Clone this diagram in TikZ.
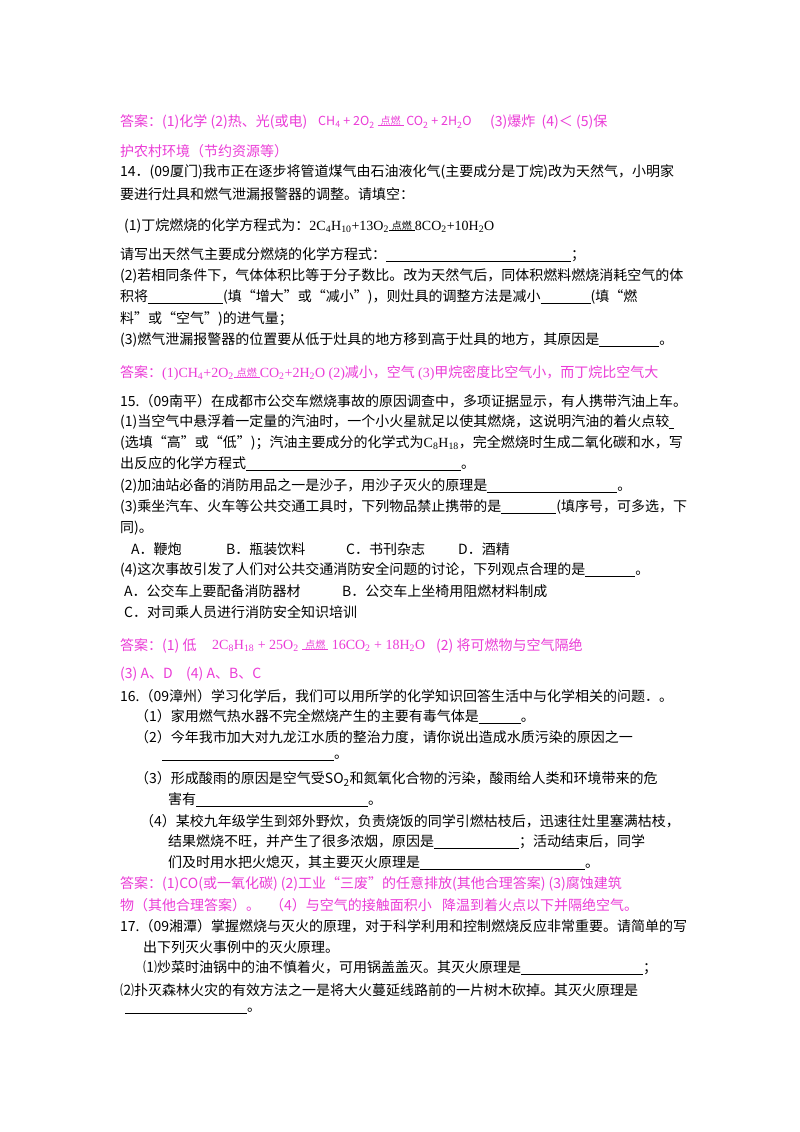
\documentclass[tikz,border=0pt]{standalone}
\usepackage{fontspec}
\setmainfont{Noto Sans CJK SC}
\newfontfamily\cjk{Noto Sans CJK SC}
\newfontfamily\tnr{Liberation Serif}
\definecolor{ans}{RGB}{235,60,215}
\newcommand\bl[1]{\rule[-2pt]{#1pt}{0.5pt}}
\newcommand\dr{\shortstack{\cjk\fontsize{10}{10}\selectfont 点燃\\[-3pt]\rule{26pt}{0.6pt}}}
\tikzset{t/.style={anchor=west,inner sep=0pt,font=\fontsize{14}{16}\selectfont},a/.style={t,text=ans}}
\begin{document}
\begin{tikzpicture}[x=1pt,y=-1pt]
\useasboundingbox[fill=white] (0,0) rectangle (800,1132);
\node[a] (a1) at (120,122) {答案：(1)化学 (2)热、光(或电)};
\node[a] (a1f) at (318,122) {\fontsize{12.5}{14}\selectfont CH\textsubscript{4} + 2O\textsubscript{2} \dr\ CO\textsubscript{2} + 2H\textsubscript{2}O};
\node[a] (a1b) at (490,122) {(3)爆炸\ \ (4)＜ (5)保};
\node[a] (a2) at (120,151) {护农村环境（节约资源等）};
\node[t] (l1) at (120,172) {14．(09厦门)我市正在逐步将管道煤气由石油液化气(主要成分是丁烷)改为天然气，小明家};
\node[t] (l2) at (120,194) {要进行灶具和燃气泄漏报警器的调整。请填空：};
\node[t] (l3) at (124,226) {(1)丁烷燃烧的化学方程式为：{\tnr 2C\textsubscript{4}H\textsubscript{10}+13O\textsubscript{2}\dr 8CO\textsubscript{2}+10H\textsubscript{2}O}};
\node[t] (l4) at (120,255) {请写出天然气主要成分燃烧的化学方程式：\bl{185}；};
\node[t] (l5) at (120,276) {(2)若相同条件下，气体体积比等于分子数比。改为天然气后，同体积燃料燃烧消耗空气的体};
\node[t] (l6) at (120,297) {积将\bl{75}(填“增大”或“减小”)，则灶具的调整方法是减小\bl{50}(填“燃};
\node[t] (l7) at (120,319) {料”或“空气”)的进气量；};
\node[t] (l8) at (120,340) {(3)燃气泄漏报警器的位置要从低于灶具的地方移到高于灶具的地方，其原因是\bl{60}。};
\node[a] (a3) at (120,373) {答案：{\tnr(1)CH\textsubscript{4}+2O\textsubscript{2}\dr CO\textsubscript{2}+2H\textsubscript{2}O (2)}减小，空气 {\tnr(3)}甲烷密度比空气小，而丁烷比空气大};
\node[t] (m1) at (120,401) {15.（09南平）在成都市公交车燃烧事故的原因调查中，多项证据显示，有人携带汽油上车。};
\node[t] (m2) at (120,422) {(1)当空气中悬浮着一定量的汽油时，一个小火星就足以使其燃烧，这说明汽油的着火点较\bl{5}};
\node[t] (m3) at (120,443) {(选填“高”或“低”)；汽油主要成分的化学式为{\tnr C\textsubscript{8}H\textsubscript{18}}，完全燃烧时生成二氧化碳和水，写};
\node[t] (m4) at (120,464) {出反应的化学方程式\bl{215}。};
\node[t] (m5) at (120,486) {(2)加油站必备的消防用品之一是沙子，用沙子灭火的原理是\bl{130}。};
\node[t] (m6) at (120,507) {(3)乘坐汽车、火车等公共交通工具时，下列物品禁止携带的是\bl{55}(填序号，可多选，下};
\node[t] (m7) at (120,528) {同)。};
\node[t] (c1) at (131,549) {A．鞭炮};
\node[t] (c2) at (226,549) {B．瓶装饮料};
\node[t] (c3) at (346,549) {C．书刊杂志};
\node[t] (c4) at (458,549) {D．酒精};
\node[t] (m8) at (120,570) {(4)这次事故引发了人们对公共交通消防安全问题的讨论，下列观点合理的是\bl{50}。};
\node[t] (d1) at (124,591) {A．公交车上要配备消防器材};
\node[t] (d2) at (342,591) {B．公交车上坐椅用阻燃材料制成};
\node[t] (d3) at (124,612) {C．对司乘人员进行消防安全知识培训};
\node[a] (a4) at (120,646) {答案：(1) 低};
\node[a] (a4f) at (212,646) {\tnr 2C\textsubscript{8}H\textsubscript{18} + 25O\textsubscript{2} \dr\ 16CO\textsubscript{2} + 18H\textsubscript{2}O};
\node[a] (a4b) at (436,646) {(2) 将可燃物与空气隔绝};
\node[a] (a5) at (120,674) {(3) A、D};
\node[a] (a5b) at (186,674) {(4) A、B、C};
\node[t] (n1) at (120,696) {16.（09漳州）学习化学后，我们可以用所学的化学知识回答生活中与化学相关的问题．。};
\node[t] (n2) at (135,716) {（1）家用燃气热水器不完全燃烧产生的主要有毒气体是\bl{42}。};
\node[t] (n3) at (135,737) {（2）今年我市加大对九龙江水质的整治力度，请你说出造成水质污染的原因之一};
\node[t] (n4) at (162,758) {\bl{172}。};
\node[t] (n5) at (135,779) {（3）形成酸雨的原因是空气受SO\textsubscript{2}和氮氧化合物的污染，酸雨给人类和环境带来的危};
\node[t] (n6) at (168,800) {害有\bl{172}。};
\node[t] (n7) at (140,821) {（4）某校九年级学生到郊外野炊，负责烧饭的同学引燃枯枝后，迅速往灶里塞满枯枝，};
\node[t] (n8) at (168,842) {结果燃烧不旺，并产生了很多浓烟，原因是\bl{85}；活动结束后，同学};
\node[t] (n9) at (168,863) {们及时用水把火熄灭，其主要灭火原理是\bl{165}。};
\node[a] (a6) at (120,884) {答案：(1)CO(或一氧化碳) (2)工业“三废”的任意排放(其他合理答案) (3)腐蚀建筑};
\node[a] (a7) at (120,905) {物（其他合理答案）。};
\node[a] (a7b) at (270,905) {（4）与空气的接触面积小};
\node[a] (a7c) at (442,905) {降温到着火点以下并隔绝空气。};
\node[t] (o1) at (120,926) {17.（09湘潭）掌握燃烧与灭火的原理，对于科学利用和控制燃烧反应非常重要。请简单的写};
\node[t] (o2) at (143,947) {出下列灭火事例中的灭火原理。};
\node[t] (o3) at (143,968) {⑴炒菜时油锅中的油不慎着火，可用锅盖盖灭。其灭火原理是\bl{122}；};
\node[t] (o4) at (120,990) {⑵扑灭森林火灾的有效方法之一是将大火蔓延线路前的一片树木砍掉。其灭火原理是};
\node[t] (o5) at (125,1011) {\bl{122}。};
\end{tikzpicture}
\end{document}
